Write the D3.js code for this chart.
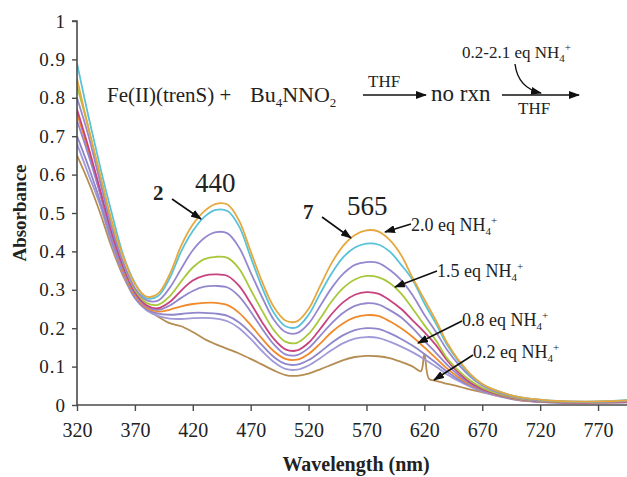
<!DOCTYPE html>
<html><head><meta charset="utf-8">
<script src="https://cdn.jsdelivr.net/npm/d3@7/dist/d3.min.js"></script>
<style>
body{margin:0;background:#fff}
svg{display:block}
text{font-family:"Liberation Serif","Times New Roman",Times,serif;fill:#222}
</style>
</head><body>
<svg id="chart" width="627" height="477"></svg>
<script>
// ---------- DATA ----------
const wavelengths = [320,330,340,350,360,370,380,390,400,410,420,430,440,450,460,470,480,490,500,510,520,530,540,550,560,570,580,590,600,610,620,630,640,650,660,670,680,700,720,740,760,780,795];
const brownWavelengths = [320,330,340,350,360,370,380,390,400,410,420,430,440,450,460,470,480,490,500,510,520,530,540,550,560,570,580,590,600,610,617,620,624,630,640,650,660,670,680,700,720,740,760,780,795];

const eq21 = [.85,.72,.60,.48,.385,.315,.282,.29,.34,.415,.47,.505,.524,.522,.48,.40,.32,.255,.22,.218,.25,.31,.37,.415,.443,.455,.452,.43,.39,.33,.275,.22,.16,.115,.08,.055,.04,.022,.014,.01,.009,.01,.012];
const eq20 = [.89,.75,.62,.50,.39,.318,.278,.284,.33,.40,.453,.49,.508,.505,.465,.385,.305,.24,.205,.203,.235,.29,.343,.385,.41,.42,.418,.40,.365,.325,.265,.212,.155,.112,.077,.054,.04,.022,.014,.01,.009,.01,.013];
const eq17 = [.80,.70,.58,.46,.37,.305,.273,.272,.305,.355,.403,.435,.45,.447,.41,.345,.28,.222,.19,.187,.212,.258,.305,.342,.365,.372,.37,.352,.325,.285,.235,.19,.142,.104,.073,.051,.037,.02,.012,.009,.008,.009,.01];
const eq15 = [.83,.72,.59,.47,.37,.30,.266,.261,.283,.322,.358,.38,.386,.383,.355,.30,.245,.195,.165,.162,.185,.225,.27,.305,.327,.336,.333,.318,.29,.25,.208,.168,.12,.088,.063,.045,.033,.018,.011,.008,.008,.009,.01];
const eq12 = [.77,.67,.56,.45,.36,.295,.26,.252,.268,.298,.324,.337,.34,.336,.31,.265,.215,.172,.145,.142,.162,.198,.237,.268,.287,.294,.29,.273,.25,.22,.19,.156,.115,.083,.058,.042,.031,.017,.01,.007,.007,.008,.009];
const eq10 = [.74,.65,.55,.44,.355,.29,.257,.248,.259,.279,.297,.308,.31,.306,.283,.243,.198,.158,.132,.13,.148,.18,.213,.24,.258,.265,.262,.247,.228,.2,.167,.136,.104,.077,.055,.04,.03,.016,.009,.007,.007,.008,.009];
const eq08 = [.76,.66,.55,.44,.35,.285,.253,.243,.248,.257,.263,.266,.266,.26,.24,.208,.172,.14,.12,.118,.133,.16,.19,.213,.228,.234,.232,.218,.2,.177,.15,.122,.094,.071,.052,.039,.029,.015,.009,.007,.006,.007,.008];
const eq06 = [.70,.62,.53,.43,.345,.28,.25,.238,.235,.237,.24,.24,.238,.232,.215,.188,.155,.125,.107,.105,.117,.138,.162,.182,.195,.2,.198,.187,.172,.154,.133,.11,.086,.066,.05,.037,.028,.014,.008,.006,.006,.007,.008];
const eq04 = [.68,.60,.52,.42,.34,.278,.247,.232,.225,.224,.226,.227,.225,.218,.2,.172,.14,.112,.094,.092,.103,.122,.143,.161,.173,.177,.175,.165,.152,.137,.119,.1,.079,.062,.047,.035,.026,.013,.008,.006,.005,.006,.007];
const eq02 = [.65,.58,.50,.41,.335,.28,.25,.23,.213,.205,.19,.172,.158,.146,.134,.12,.105,.09,.078,.076,.082,.093,.105,.117,.125,.128,.127,.122,.112,.1,.088,.133,.068,.063,.055,.048,.04,.033,.026,.014,.008,.006,.005,.006,.007];

const seriesNames  = ["0.2 eq","0.4 eq","0.6 eq","0.8 eq","1.0 eq","1.2 eq","1.5 eq","1.7 eq","2.0 eq","2.1 eq"];
const seriesColors = ["#b58d52","#a09ad8","#8f86cc","#f08a2c","#9487cc","#c8427e","#a8c83c","#9688cf","#58c2d8","#e6a83e"];
const seriesValues = [eq02,eq04,eq06,eq08,eq10,eq12,eq15,eq17,eq20,eq21];

const xTicks = [320,370,420,470,520,570,620,670,720,770];
const yTicks = [0,0.1,0.2,0.3,0.4,0.5,0.6,0.7,0.8,0.9,1];
const yTickLabels = ["0","0.1","0.2","0.3","0.4","0.5","0.6","0.7","0.8","0.9","1"];

// ---------- CHART ----------
const svg = d3.select("#chart");
svg.append("rect").attr("width",627).attr("height",477).attr("fill","#fff");

const x = d3.scaleLinear().domain([320,795]).range([77,627]);
const y = d3.scaleLinear().domain([0,1]).range([405,21]);

const defs = svg.append("defs");
defs.append("marker").attr("id","ah").attr("markerUnits","userSpaceOnUse")
  .attr("markerWidth",11).attr("markerHeight",8).attr("refX",10).attr("refY",4)
  .attr("orient","auto")
  .append("path").attr("d","M0,0 L11,4 L0,8 Z").attr("fill","#111");
defs.append("clipPath").attr("id","plot").append("rect")
  .attr("x",77).attr("y",0).attr("width",560).attr("height",405);

// curves
const line = d3.line().curve(d3.curveCatmullRom.alpha(0.5));
const g = svg.append("g").attr("clip-path","url(#plot)");
seriesValues.forEach((vals,i)=>{
  const wl = (vals === eq02) ? brownWavelengths : wavelengths;
  const pts = vals.map((v,j)=>[x(wl[j]), y(v)]);
  g.append("path").attr("d", line(pts)).attr("fill","none")
   .attr("stroke", seriesColors[i]).attr("stroke-width",1.8)
   .attr("stroke-linejoin","round");
});

// axes
const axisColor = "#4a4a4a";
const yAxis = svg.append("g").attr("transform","translate(77,0)")
  .call(d3.axisLeft(y).tickValues(yTicks).tickSize(5).tickPadding(6)
        .tickFormat((d,i)=>yTickLabels[i]));
const xAxis = svg.append("g").attr("transform","translate(0,405)")
  .call(d3.axisBottom(x).tickValues(xTicks).tickSize(6).tickPadding(12)
        .tickFormat(d3.format("d")));
[yAxis,xAxis].forEach(a=>{
  a.select(".domain").attr("stroke",axisColor).attr("stroke-width",1.6);
  a.selectAll(".tick line").attr("stroke",axisColor).attr("stroke-width",1.4);
  a.selectAll("text").attr("fill","#333")
   .style("font-family",'"Liberation Serif","Times New Roman",serif');
});
yAxis.selectAll("text").style("font-size","19px").style("letter-spacing","1px");
xAxis.selectAll("text").style("font-size","20px");
yAxis.select(".domain").attr("d","M0,405V21H-5");
xAxis.select(".domain").attr("d","M77,0H627");

// axis titles
svg.append("text").attr("transform","translate(26,213) rotate(-90)")
  .attr("text-anchor","middle").attr("font-weight","bold").attr("font-size",19)
  .text("Absorbance");
svg.append("text").attr("x",356).attr("y",471)
  .attr("text-anchor","middle").attr("font-weight","bold").attr("font-size",20)
  .text("Wavelength (nm)");

// ---------- ANNOTATIONS ----------
function nh4(sel, size){
  const sub = Math.round(size*0.62);
  sel.append("tspan").text("NH");
  sel.append("tspan").attr("font-size",sub).attr("dy",4).text("4");
  sel.append("tspan").attr("font-size",sub).attr("dx",0).attr("dy",-11).text("+");
}
function eqLabel(xp, yp, num, size){
  const t = svg.append("text").attr("x",xp).attr("y",yp).attr("font-size",size);
  t.append("tspan").text(num + " eq ");
  nh4(t,size);
}
function arrow(x1,y1,x2,y2){
  svg.append("line").attr("x1",x1).attr("y1",y1).attr("x2",x2).attr("y2",y2)
    .attr("stroke","#111").attr("stroke-width",1.6).attr("marker-end","url(#ah)");
}

// reaction scheme
svg.append("text").attr("x",107).attr("y",102).attr("font-size",21).text("Fe(II)(trenS) +");
const bu = svg.append("text").attr("x",250).attr("y",102).attr("font-size",22);
bu.append("tspan").text("Bu");
bu.append("tspan").attr("font-size",13).attr("dy",5).text("4");
bu.append("tspan").attr("dy",-5).text("NNO");
bu.append("tspan").attr("font-size",13).attr("dy",5).text("2");
svg.append("text").attr("x",368).attr("y",87).attr("font-size",17).text("THF");
arrow(363,95,426,95);
svg.append("text").attr("x",431).attr("y",101).attr("font-size",23).text("no rxn");
arrow(502,95,579,95);
svg.append("text").attr("x",518).attr("y",114).attr("font-size",17).text("THF");
const reagentLabel = svg.append("text").attr("x",462).attr("y",58).attr("font-size",17);
reagentLabel.append("tspan").text("0.2-2.1 eq ");
nh4(reagentLabel,17);
svg.append("path").attr("d","M515,64 Q518,88 541,93").attr("fill","none")
  .attr("stroke","#111").attr("stroke-width",1.4).attr("marker-end","url(#ah)");

// peak labels
svg.append("text").attr("x",153).attr("y",200).attr("font-size",21).attr("font-weight","bold").text("2");
arrow(172,199,201,219);
svg.append("text").attr("x",195).attr("y",192).attr("font-size",27).text("440");
svg.append("text").attr("x",303).attr("y",219).attr("font-size",21).attr("font-weight","bold").text("7");
arrow(322,217,351,238);
svg.append("text").attr("x",347).attr("y",215).attr("font-size",27).text("565");

// eq labels
eqLabel(411,231,"2.0",18); arrow(411,224,385,232);
eqLabel(437,277,"1.5",18); arrow(437,271,395,287);
eqLabel(462,326,"0.8",18); arrow(462,321,418,343);
eqLabel(473,358,"0.2",18); arrow(473,355,434,380);
</script>
</body></html>
